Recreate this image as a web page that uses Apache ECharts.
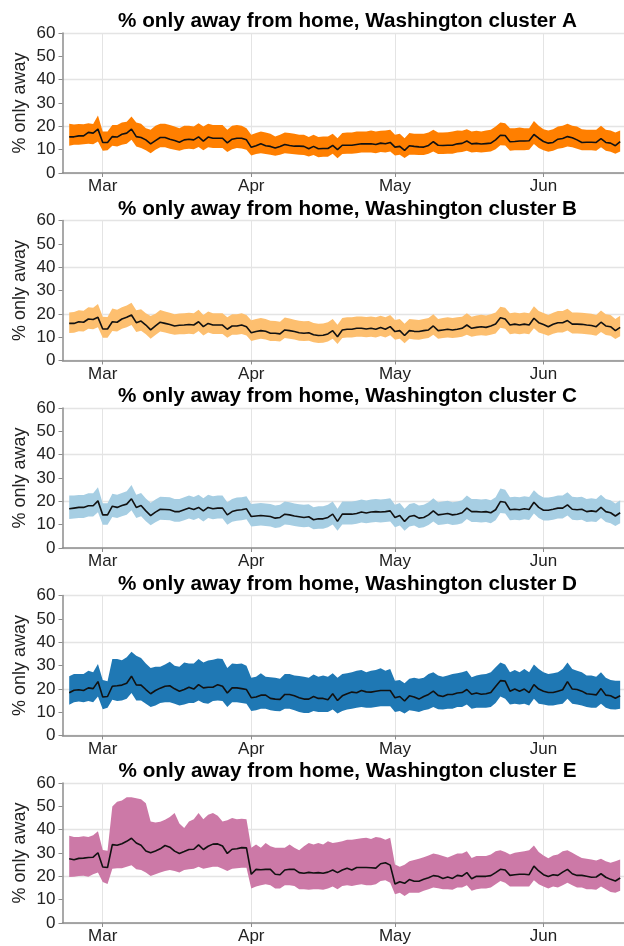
<!DOCTYPE html>
<html>
<head>
<meta charset="utf-8">
<script src="https://cdn.jsdelivr.net/npm/echarts@6/dist/echarts.min.js"></script>
<style>
  html, body { margin: 0; padding: 0; background: #fff; }
  #chart { width: 624px; height: 946px; }
</style>
</head>
<body>
<div id="chart"></div>
<script>
// Daily values; day index 0 = 2020-02-23, last = 2020-06-17
const startDate = '2020-02-23';
const monthTickIdx = [7, 38, 68, 99];           // Mar 1, Apr 1, May 1, Jun 1
const monthLabels = ['Mar', 'Apr', 'May', 'Jun'];
const clusterNames = ['A', 'B', 'C', 'D', 'E'];
const bandColors = ['#ff7f00', '#fdbf6f', '#a6cee3', '#1f78b4', '#cc79a7'];

const meanA = [15.5,15.5,15.9,15.9,17.4,17.1,18.8,13.1,13.1,15.6,
  15.4,16.6,17.1,18.8,15.6,15.2,14.2,12.5,13.9,15.2,
  15.2,14.5,13.9,13.2,14.2,14.5,14.2,15.5,13.7,15.4,
  14.9,14.9,14.9,12.9,14.5,14.9,14.9,14.2,11.0,11.7,
  12.5,11.7,11.4,10.7,11.4,12.2,11.8,11.5,11.5,11.4,
  10.4,11.4,10.4,10.5,10.5,11.8,10.0,11.9,11.9,11.9,
  12.2,12.5,12.5,12.5,12.2,12.8,12.5,13.1,11.1,11.4,
  9.7,11.7,11.4,11.2,11.1,11.8,13.4,11.9,11.8,11.9,
  11.9,12.5,12.7,13.7,12.5,12.7,12.4,12.6,12.8,14.2,
  16.2,16.1,13.4,13.5,13.7,13.7,13.8,16.5,14.9,13.5,
  12.8,13.1,14.5,14.8,15.6,15.1,14.2,13.1,13.2,13.2,
  13.1,14.7,13.1,12.8,11.7,13.4];
const hiA = [21.1,20.8,21.0,20.9,21.3,21.0,24.6,17.8,17.8,20.6,
  20.6,21.6,22.0,24.2,21.6,21.1,19.2,18.5,20.2,21.1,
  21.1,20.6,19.9,19.2,20.2,20.3,19.9,21.3,19.9,21.1,
  20.6,20.6,20.6,18.5,20.2,20.6,20.2,19.2,16.4,17.1,
  17.8,17.4,16.8,15.6,16.4,17.4,17.1,16.8,16.4,16.4,
  15.4,16.4,15.4,15.6,15.6,16.8,14.9,17.1,17.4,17.4,
  17.8,17.8,17.8,18.2,17.8,18.1,18.2,18.5,16.4,16.8,
  14.9,17.1,16.8,16.8,16.8,17.4,18.5,17.4,17.4,17.5,
  17.8,18.2,18.1,18.8,17.8,18.1,17.8,18.2,18.5,19.9,
  21.6,21.3,19.2,19.2,19.5,19.2,19.2,22.3,20.2,18.8,
  18.2,18.8,19.9,20.2,21.1,20.2,19.9,18.8,18.5,18.5,
  18.5,20.2,18.5,18.2,17.4,18.2];
const loA = [11.7,12.1,12.1,12.3,12.5,12.3,13.5,9.5,9.7,11.7,
  11.4,12.1,12.5,14.2,11.4,10.7,9.7,8.5,10.0,11.0,
  11.0,10.4,10.0,9.5,10.2,10.4,10.2,11.1,9.7,11.0,
  10.7,10.7,10.7,9.0,10.2,10.7,10.5,10.0,7.5,8.1,
  8.5,8.1,7.8,7.4,7.8,8.5,8.3,8.0,7.8,7.7,
  7.1,7.7,6.8,7.0,7.0,8.3,6.3,8.1,8.3,8.3,
  8.5,8.8,8.8,8.8,8.5,9.0,8.8,9.2,7.5,7.8,
  6.4,7.8,7.8,7.7,7.7,8.3,9.2,8.1,8.1,8.3,
  8.3,8.8,9.0,9.5,8.8,9.0,8.8,9.0,9.2,10.2,
  11.9,11.8,9.5,9.7,9.8,9.8,10.0,12.4,10.7,9.7,
  9.1,9.5,10.4,10.7,11.4,11.0,10.4,9.7,9.7,9.7,
  9.5,11.0,9.5,9.1,8.3,9.2];

const meanB = [15.9,15.9,16.6,16.4,17.8,17.6,18.5,13.5,13.5,16.6,
  16.4,17.8,18.5,19.5,16.2,16.9,15.2,13.1,14.8,16.4,
  15.9,15.4,14.8,15.1,15.2,15.4,15.2,16.6,14.5,15.9,
  15.2,15.2,15.2,13.4,14.8,14.8,15.2,14.5,11.9,12.4,
  12.8,12.5,11.7,11.7,11.4,13.1,12.8,12.4,11.9,11.7,
  11.9,11.0,10.7,10.8,11.4,12.8,10.2,13.1,13.4,13.4,
  13.8,13.8,13.5,13.8,13.4,14.1,13.4,14.5,12.4,12.8,
  10.7,12.8,12.5,12.4,12.8,13.1,14.8,12.8,13.1,13.4,
  13.1,13.4,13.8,15.2,13.8,14.2,14.5,14.2,14.8,15.6,
  18.3,17.8,15.2,15.6,15.2,15.6,15.2,18.1,16.2,15.4,
  14.5,15.5,16.2,16.2,17.1,15.6,15.6,15.5,15.2,15.0,
  14.5,16.4,14.8,14.5,12.8,14.2];
const hiB = [20.6,20.8,21.5,21.3,22.8,22.6,24.2,18.8,18.6,22.3,
  21.8,22.8,23.6,24.8,21.5,22.0,20.2,19.1,20.0,21.6,
  21.0,20.5,19.8,20.1,20.2,20.5,20.2,21.8,19.5,21.0,
  20.3,20.3,20.3,18.5,19.8,19.8,20.2,19.5,17.2,17.8,
  18.2,17.8,17.0,16.9,16.6,18.4,18.0,17.5,17.0,16.8,
  16.9,16.1,15.8,15.9,16.4,17.8,15.3,18.2,18.5,18.5,
  18.9,18.9,18.6,18.9,18.5,19.2,18.5,19.5,17.4,17.8,
  15.7,17.8,17.6,17.4,17.8,18.2,19.8,17.8,18.2,18.5,
  18.2,18.5,18.8,20.2,18.8,19.3,19.6,19.3,19.8,20.6,
  23.0,22.6,20.2,20.6,20.2,20.6,20.2,23.3,21.2,20.4,
  19.5,20.5,21.2,21.2,22.2,20.6,20.6,20.5,20.2,20.0,
  19.5,21.4,19.8,19.5,17.8,19.2];
const loB = [11.8,11.9,12.5,12.4,13.6,13.4,14.3,9.7,9.8,12.6,
  12.4,13.6,14.3,15.2,12.2,12.8,11.3,9.3,10.9,12.4,
  12.0,11.5,11.0,11.2,11.3,11.5,11.3,12.6,10.7,12.0,
  11.4,11.4,11.4,9.8,11.0,11.0,11.4,10.7,8.4,8.9,
  9.3,9.0,8.4,8.4,8.1,9.6,9.3,9.0,8.5,8.4,
  8.5,7.8,7.5,7.6,8.1,9.3,7.1,9.6,9.9,9.9,
  10.2,10.2,10.0,10.2,9.9,10.5,9.9,10.8,8.9,9.3,
  7.4,9.3,9.0,8.9,9.3,9.6,11.0,9.3,9.6,9.9,
  9.6,9.9,10.2,11.0,10.2,10.6,10.8,10.6,11.0,11.6,
  14.0,13.6,11.2,11.6,11.2,11.6,11.2,13.8,12.0,11.4,
  10.6,11.5,12.0,12.0,12.9,11.6,11.6,11.5,11.2,11.0,
  10.6,12.2,10.9,10.6,9.2,10.4];

const meanC = [16.8,17.1,17.4,17.4,18.1,18.1,20.2,14.2,14.2,17.9,
  17.4,18.2,18.8,21.1,17.4,18.2,15.9,13.9,15.4,16.6,
  16.5,16.4,15.6,15.6,16.4,17.1,16.5,17.4,15.9,17.4,
  16.8,17.1,17.1,14.2,15.6,16.2,16.4,16.8,13.5,13.7,
  13.9,13.7,13.5,12.8,13.1,14.5,14.2,13.7,13.4,13.1,
  13.4,12.1,12.5,12.5,13.1,14.5,11.4,14.5,14.5,14.5,
  14.8,15.4,15.0,15.4,15.6,15.4,15.6,15.9,13.1,13.9,
  11.4,13.5,13.9,12.8,13.1,14.2,15.9,14.2,14.5,14.8,
  14.2,14.5,15.1,17.1,15.6,15.6,15.4,15.6,15.1,16.4,
  19.9,19.6,16.4,16.6,16.4,16.8,16.5,19.6,17.4,16.2,
  16.2,16.6,17.1,17.1,18.5,16.6,16.4,16.6,15.6,15.9,
  15.6,17.4,15.6,15.1,13.7,15.1];
const hiC = [22.5,22.5,22.7,22.7,23.5,23.5,26.0,19.2,19.2,23.3,
  22.8,23.6,24.3,27.0,22.8,23.6,21.2,19.4,20.8,22.0,
  21.9,21.8,21.0,21.0,21.8,22.5,21.9,22.8,21.3,22.8,
  22.2,22.5,22.5,19.6,21.0,21.6,21.8,22.2,18.9,19.1,
  19.3,19.1,18.9,18.2,18.5,19.9,19.6,19.1,18.8,18.5,
  18.8,17.5,17.9,17.9,18.5,19.9,16.8,19.9,19.9,19.9,
  20.2,20.8,20.4,20.8,21.0,20.8,21.0,21.3,18.5,19.3,
  16.8,18.9,19.3,18.2,18.5,19.6,21.3,19.6,19.9,20.2,
  19.6,19.9,20.5,22.5,21.0,21.0,20.8,21.0,20.5,21.8,
  25.5,25.0,21.8,22.0,21.8,22.2,21.9,24.8,22.8,21.6,
  21.6,22.0,22.5,22.5,23.9,22.0,21.8,22.0,21.0,21.3,
  21.0,22.8,21.0,20.5,19.1,20.5];
const loC = [12.4,12.6,12.9,12.9,13.5,13.5,15.3,10.0,10.0,13.3,
  12.9,13.6,14.2,16.2,12.9,13.6,11.5,9.8,11.0,12.1,
  12.0,11.9,11.2,11.2,11.9,12.6,12.0,12.9,11.4,12.9,
  12.3,12.6,12.6,10.0,11.2,11.7,11.9,12.3,9.2,9.4,
  9.6,9.4,9.2,8.6,8.9,10.1,9.9,9.4,9.1,8.9,
  9.1,8.0,8.3,8.3,8.9,10.1,7.4,10.1,10.1,10.1,
  10.4,10.9,10.6,10.9,11.1,10.9,11.1,11.4,8.9,9.6,
  7.4,9.2,9.6,8.6,8.9,9.9,11.4,9.9,10.1,10.4,
  9.9,10.1,10.6,12.4,11.1,11.1,10.9,11.1,10.6,11.9,
  15.0,14.8,11.9,12.1,11.9,12.3,12.0,14.8,12.9,11.8,
  11.8,12.1,12.6,12.6,13.9,12.1,11.9,12.1,11.1,11.4,
  11.1,12.9,11.1,10.6,9.4,10.6];

const meanD = [18.3,19.4,19.6,19.3,20.4,20.1,23.1,16.5,16.7,21.1,
  21.3,21.6,22.4,25.4,21.7,21.6,19.7,17.9,19.3,20.3,
  21.1,21.3,20.0,19.0,19.7,20.7,19.9,21.8,20.4,20.7,
  20.7,21.8,21.1,18.2,20.4,20.4,20.1,19.7,16.2,16.5,
  17.3,17.3,15.9,15.6,15.5,17.6,17.6,17.0,16.2,15.6,
  15.6,16.7,15.9,15.9,15.3,17.9,15.0,17.0,17.9,18.6,
  18.3,19.3,18.7,18.6,19.0,19.3,19.3,19.3,16.2,16.7,
  14.8,17.0,16.5,15.6,16.7,17.6,19.0,17.2,16.7,17.6,
  17.6,18.2,18.4,19.7,17.7,18.2,17.7,17.9,18.4,21.0,
  23.5,23.3,19.0,19.9,19.0,19.9,18.4,21.8,19.9,19.0,
  18.4,18.4,19.0,19.6,23.1,19.9,19.7,19.0,17.9,17.7,
  17.4,20.1,17.3,17.0,16.0,17.0];
const hiD = [25.4,26.4,26.4,26.4,27.8,27.1,30.6,23.8,23.3,32.8,
  32.8,32.3,33.5,35.9,34.2,33.2,30.9,28.9,29.5,29.5,
  30.4,31.6,29.9,29.5,31.3,30.9,30.9,32.8,31.3,32.1,
  32.5,33.0,32.8,28.9,30.9,30.6,30.9,29.9,24.7,25.2,
  26.7,25.2,25.0,24.7,24.3,26.4,26.4,25.7,25.5,25.2,
  24.7,26.1,25.2,25.7,25.2,26.7,24.7,26.4,26.7,27.1,
  27.8,28.1,27.1,27.8,28.1,28.8,27.8,28.5,23.5,23.8,
  22.4,24.3,24.7,24.3,24.7,26.4,27.1,25.7,25.2,25.7,
  26.4,26.7,27.1,27.8,25.0,25.7,26.1,26.4,27.1,29.2,
  31.3,30.4,27.1,28.1,27.1,28.5,27.1,30.4,28.5,27.1,
  26.4,26.7,27.1,28.5,31.3,28.5,27.8,27.1,25.7,25.7,
  25.2,27.1,24.7,23.8,23.5,23.5];
const loD = [13.2,14.3,14.6,14.3,14.8,14.3,16.7,11.3,11.9,15.3,
  14.8,15.0,15.7,18.2,15.0,15.0,13.6,12.2,12.9,13.9,
  14.3,14.3,13.6,12.9,13.3,13.9,13.9,15.0,13.9,13.6,
  14.8,15.0,14.8,12.2,14.3,14.2,13.9,13.6,10.5,10.8,
  11.5,11.5,10.8,10.5,10.4,11.5,11.5,10.8,10.1,9.6,
  9.6,10.5,10.1,10.1,10.1,11.1,9.4,10.5,11.1,11.5,
  11.9,12.2,11.9,11.9,12.2,12.5,12.5,12.5,10.1,10.5,
  9.4,10.8,10.5,10.1,10.8,11.3,12.2,11.3,11.1,11.5,
  11.5,12.2,12.2,13.3,11.5,11.9,11.9,11.9,12.2,13.9,
  16.7,15.7,13.3,13.6,13.3,13.6,12.9,15.7,13.6,13.3,
  12.9,12.9,13.3,13.6,15.7,13.6,13.3,12.9,12.2,11.9,
  11.9,13.6,11.9,11.3,11.1,11.5];

const meanE = [27.5,27.1,27.7,27.8,28.1,28.2,30.1,24.0,23.8,33.6,
  33.3,34.0,35.0,36.3,34.3,33.3,30.9,30.1,30.9,31.8,
  33.2,32.5,30.8,29.8,30.6,31.5,31.6,33.5,31.5,32.9,
  33.8,33.9,33.0,29.8,31.6,31.8,32.3,32.2,20.9,23.0,
  22.8,23.0,23.0,20.9,20.7,22.7,23.0,23.0,21.6,21.3,
  21.7,21.4,21.6,21.3,21.8,22.7,21.6,22.7,23.5,22.7,
  23.8,23.8,23.8,23.7,23.5,25.4,25.8,24.8,16.7,17.7,
  17.0,18.6,17.9,17.9,18.7,19.4,20.3,20.0,19.1,19.7,
  19.1,20.4,20.1,21.6,19.0,20.0,20.0,20.0,20.3,21.6,
  23.0,22.7,20.4,20.7,20.9,20.9,20.7,24.4,22.3,20.7,
  19.9,20.7,20.4,21.8,23.0,21.1,20.4,20.4,20.0,19.6,
  19.7,21.1,19.6,18.7,18.0,19.3];
const hiE = [37.4,36.9,36.9,37.2,36.9,37.6,39.3,31.3,31.0,49.9,
  52.0,52.5,53.9,53.9,53.5,53.0,51.3,43.5,43.1,43.4,
  44.3,45.4,47.1,42.6,40.7,43.5,44.5,47.1,44.5,46.4,
  47.1,46.0,43.5,44.0,45.0,44.5,44.7,44.5,32.2,33.6,
  32.2,34.3,32.9,32.2,32.2,32.2,33.6,32.2,31.2,32.9,
  34.3,33.6,34.3,33.6,35.0,34.3,34.6,35.0,35.7,35.7,
  36.0,36.3,36.5,36.0,36.9,36.5,35.7,36.5,25.1,24.1,
  25.0,26.5,27.0,27.5,28.2,28.9,29.8,29.4,28.7,28.1,
  28.9,29.8,29.8,30.8,27.9,28.7,28.7,28.7,29.4,30.8,
  31.2,30.4,29.4,30.1,30.4,30.8,31.2,33.2,30.4,28.9,
  27.8,28.9,29.4,30.8,31.2,30.1,28.9,27.9,27.5,27.2,
  26.8,27.5,26.5,25.8,26.5,27.2];
const loE = [19.7,19.8,20.1,20.3,19.8,20.9,21.6,17.6,16.7,23.3,
  23.5,23.5,24.1,24.8,23.0,22.7,21.6,20.1,20.9,21.6,
  22.3,22.7,22.3,21.6,22.7,23.0,23.3,24.1,23.3,23.7,
  24.1,24.1,23.3,22.3,23.3,23.5,23.7,23.7,14.8,15.6,
  16.2,16.6,16.2,14.8,14.8,16.2,16.2,15.9,14.5,14.5,
  14.2,14.5,14.5,14.2,14.8,15.6,14.5,15.9,16.2,15.9,
  16.3,16.6,16.2,16.2,16.6,18.0,18.3,17.3,12.3,13.0,
  11.6,13.0,13.0,13.0,13.8,14.5,15.2,14.9,14.5,14.5,
  14.2,15.2,15.2,16.2,13.8,14.5,14.8,14.8,15.2,16.6,
  18.0,17.3,15.6,15.6,15.6,15.6,15.6,18.3,16.6,15.6,
  14.8,15.6,15.2,16.2,17.3,16.2,15.2,15.2,14.5,14.5,
  14.2,15.6,14.5,13.3,13.0,13.8];

const panels = [
  { mean: meanA, hi: hiA, lo: loA },
  { mean: meanB, hi: hiB, lo: loB },
  { mean: meanC, hi: hiC, lo: loC },
  { mean: meanD, hi: hiD, lo: loD },
  { mean: meanE, hi: hiE, lo: loE }
];

const FONT = 'Liberation Sans, Arial, sans-serif';
const PANEL_TOP = 33, PANEL_STEP = 187.5, PANEL_H = 140, PLOT_LEFT = 62.5;
const X_MIN = -1.4, X_MAX = 115.8;
const axisGray = '#8c8c8c';
const gridGray = '#e4e4e4';

const grid = [], xAxis = [], yAxis = [], series = [], title = [];
panels.forEach((p, i) => {
  const top = PANEL_TOP + PANEL_STEP * i;
  grid.push({ left: PLOT_LEFT, right: 0, top: top, height: PANEL_H });
  title.push({
    text: '% only away from home, Washington cluster ' + clusterNames[i],
    left: 342.5, top: top - 27, textAlign: 'center',
    textStyle: { fontFamily: FONT, fontSize: 20.7, fontWeight: 'bold', color: '#000' }
  });
  xAxis.push({
    type: 'value', gridIndex: i, min: X_MIN, max: X_MAX,
    axisLine: { show: true, onZero: false, lineStyle: { color: axisGray, width: 1.5 } },
    axisTick: { show: true, customValues: monthTickIdx, length: 4, lineStyle: { color: axisGray } },
    axisLabel: {
      customValues: monthTickIdx, margin: 5,
      formatter: v => { const k = monthTickIdx.indexOf(v); return k >= 0 ? monthLabels[k] : ''; },
      fontFamily: FONT, fontSize: 17, color: '#222'
    },
    splitLine: { show: true, lineStyle: { color: gridGray, width: 1 } }
  });
  yAxis.push({
    type: 'value', gridIndex: i, min: 0, max: 60, interval: 10,
    name: '% only away', nameLocation: 'middle', nameGap: 33, nameMoveOverlap: false,
    nameTextStyle: { fontFamily: FONT, fontSize: 18, color: '#222' },
    axisLine: { show: true, onZero: false, lineStyle: { color: axisGray, width: 1.5 } },
    axisTick: { show: true, length: 4, lineStyle: { color: axisGray } },
    axisLabel: { fontFamily: FONT, fontSize: 17, color: '#222', margin: 7 },
    splitLine: { show: true, lineStyle: { color: [gridGray, 'rgba(0,0,0,0)'], width: 1.3 } }
  });
  const n = p.mean.length;
  const bandData = [], meanData = [];
  for (let d = 0; d < n; d++) {
    bandData.push([d, p.lo[d], p.hi[d]]);
    meanData.push([d, p.mean[d]]);
  }
  // ribbon between lo and hi, positioned through the axes' scales
  series.push({
    type: 'custom', xAxisIndex: i, yAxisIndex: i, data: bandData,
    encode: { x: 0, y: [1, 2] }, silent: true, z: 2, clip: true,
    renderItem: (params, api) => {
      if (params.dataIndex !== 0) return null;
      const pts = [];
      for (let d = 0; d < n; d++) pts.push(api.coord([bandData[d][0], bandData[d][2]]));
      for (let d = n - 1; d >= 0; d--) pts.push(api.coord([bandData[d][0], bandData[d][1]]));
      return { type: 'polygon', shape: { points: pts }, style: { fill: bandColors[i] } };
    }
  });
  series.push({
    type: 'line', xAxisIndex: i, yAxisIndex: i,
    data: meanData, symbol: 'none',
    lineStyle: { color: '#111', width: 1.6 }, silent: true, z: 3
  });
});

const chart = echarts.init(document.getElementById('chart'), null, { renderer: 'canvas' });
chart.setOption({
  animation: false,
  backgroundColor: '#fff',
  title: title,
  grid: grid,
  xAxis: xAxis,
  yAxis: yAxis,
  series: series
});
</script>
</body>
</html>
